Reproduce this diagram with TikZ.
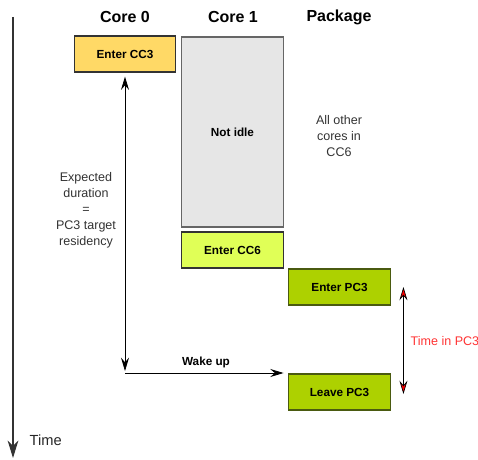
\documentclass[tikz,border=0pt]{standalone}
\usepackage{fontspec}
\setmainfont{Liberation Sans}
\usetikzlibrary{calc}
\usetikzlibrary{arrows.meta}

\definecolor{cthree}{HTML}{FFD966}
\definecolor{csix}{HTML}{E0FF57}
\definecolor{pkg}{HTML}{ADD100}
\definecolor{pkgline}{HTML}{4A5A10}
\definecolor{idle}{HTML}{E6E6E6}
\definecolor{lbl}{HTML}{FF3333}

\begin{document}
\begin{tikzpicture}[x=0.75pt, y=-0.75pt, >={Stealth[length=10pt, width=6pt, inset=3.5pt]}]

 \tikzset{
    box/.style={
      rectangle,
      minimum width=76pt,
      minimum height=27pt,
      inner sep=0pt,
      line width=0.9pt,
      font=\fontsize{8.8}{10.5}\selectfont\bfseries,
    draw
    },
    head/.style={font=\fontsize{12}{14}\selectfont\bfseries},
    note/.style={align=center, font=\fontsize{9.4}{12}\selectfont, text=black!80},
    redtip/.style={{Stealth[length=10pt, width=6pt, inset=3.5pt, fill=red, line width=0.5pt]}-{Stealth[length=10pt, width=6pt, inset=3.5pt, fill=red, line width=0.5pt]}}
  }

\useasboundingbox (0,0) rectangle (478,460);

% column heads
\node[head] (h0) at (125,17) {Core 0};
\node[head] (h1) at (233,17) {Core 1};
\node[head] (h2) at (339,17) {Package};

% time axis
\coordinate (t0) at (13,17);
\coordinate (t1) at (13,458);
\draw[-{Stealth[length=13pt, width=8pt, inset=4pt]}, line width=0.8pt, black!80] (t0) -- (t1);
\node[anchor=west, font=\fontsize{11}{13}\selectfont, text=black!85] (time) at (25,440) {Time};

\node[box, fill=cthree, draw=black!80] (cc3) at (125,54) {Enter CC3};
\node[box, fill=idle, draw=black!60, minimum height=142.5pt] (busy) at (232.5,132) {Not idle};
\node[box, fill=csix, draw=black!80] (cc6) at (232.5,250) {Enter CC6};
\node[box, fill=pkg, draw=pkgline, minimum width=77pt] (pcin) at (339.5,287) {Enter PC3};
\node[box, fill=pkg, draw=pkgline, minimum width=77pt] (pcout) at (339.5,392) {Leave PC3};

\node[note] (others) at (339,136) {All other\\cores in\\CC6};
\node[note] (expect) at (86,210) {Expected\\duration\\=\\PC3 target\\residency};

% wake up path
\coordinate (wake) at (125,373);
\draw[<->, line width=0.6pt] ([yshift=-3pt]cc3.south) -- ([yshift=1.5pt]wake);
\draw[->, line width=0.6pt] (wake) -- ([xshift=-3pt]wake -| pcout.west);
\node[font=\fontsize{8.8}{10.5}\selectfont\bfseries] (wk) at (206,362) {Wake up};

% time in PC3
\draw[redtip, line width=0.7pt] ([xshift=9pt]pcin.east) -- ([xshift=9pt, yshift=-1.5pt]pcout.east);
\node[anchor=west, text=lbl, font=\fontsize{9.4}{11}\selectfont] (tpc) at (406,341) {Time in PC3};

\end{tikzpicture}
\end{document}
